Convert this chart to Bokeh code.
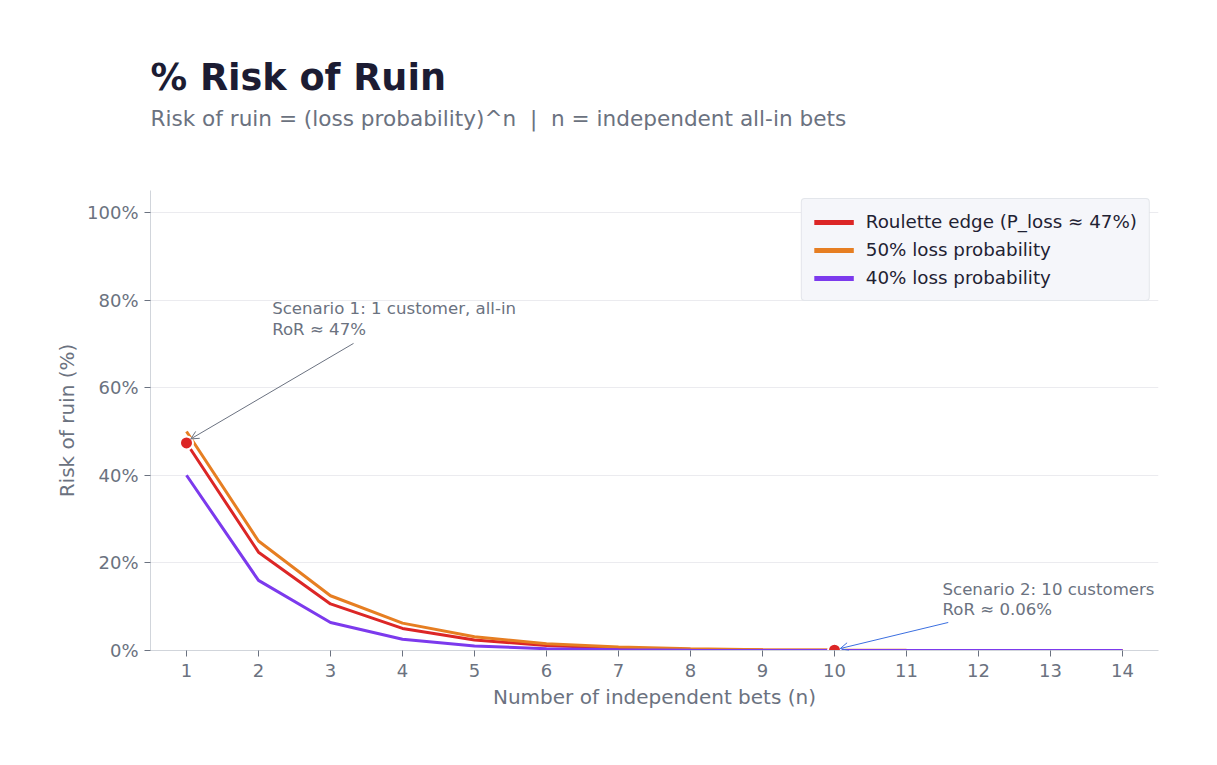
from bokeh.plotting import figure
from bokeh.models import (Title, Label, Arrow, OpenHead, FixedTicker, PrintfTickFormatter,
                          Range1d, Legend, LegendItem)
from bokeh.embed import file_html
from bokeh.resources import INLINE

# ---- data ----
n_bets = [1, 2, 3, 4, 5, 6, 7, 8, 9, 10, 11, 12, 13, 14]
roulette_ror = [47.37, 22.44, 10.63, 5.04, 2.39, 1.13, 0.535, 0.253, 0.120, 0.057, 0.027, 0.013, 0.006, 0.003]
half_ror = [50.0, 25.0, 12.5, 6.25, 3.125, 1.5625, 0.781, 0.391, 0.195, 0.098, 0.049, 0.024, 0.012, 0.006]
forty_ror = [40.0, 16.0, 6.4, 2.56, 1.024, 0.41, 0.164, 0.066, 0.026, 0.010, 0.004, 0.002, 0.001, 0.0003]
series_names = ["Roulette edge (P_loss \u2248 47%)", "50% loss probability", "40% loss probability"]
series_colors = ["#dc2626", "#e67e22", "#7c3aed"]
highlight_n = [1, 10]
highlight_ror = [47.37, 0.057]
y_ticks = [0, 20, 40, 60, 80, 100]
x_ticks = n_bets

# annotation anchors (data space)
ann1_text = "Scenario 1: 1 customer, all-in\nRoR \u2248 47%"
ann1_pos = (2.19, 80.3)
ann1_from = (3.32, 70.1)
ann1_to = (1.06, 48.3)
ann2_text = "Scenario 2: 10 customers\nRoR \u2248 0.06%"
ann2_pos = (11.5, 16.2)
ann2_from = (11.58, 6.4)
ann2_to = (10.08, 0.45)

FONT = "DejaVu Sans"
GRAY = "#6b7280"
DARK = "#1c1c33"

p = figure(width=1217, height=765, output_backend="svg", toolbar_location=None,
           x_range=Range1d(0.5, 14.5), y_range=Range1d(0, 105),
           min_border_left=150, min_border_right=59, min_border_bottom=115, min_border_top=0)
p.title = None
p.outline_line_color = None
p.background_fill_color = "white"
p.border_fill_color = "white"

# stacked "above" panels, innermost first: gap spacer, subtitle, title, top spacer
p.add_layout(Title(text=" ", text_font_size="34px", standoff=15), "above")
sub = Title(text="Risk of ruin = (loss probability)^n \u00a0|\u00a0 n = independent all-in bets",
            text_font=FONT, text_font_size="21.6px", text_color=GRAY, text_font_style="normal",
            align="left", standoff=10)
p.add_layout(sub, "above")
main = Title(text="% Risk of Ruin", text_font=FONT, text_font_size="36.6px", text_color=DARK,
             text_font_style="bold", align="left", standoff=0)
p.add_layout(main, "above")
p.add_layout(Title(text=" ", text_font_size="34px", standoff=13), "above")

for ys, c in zip([roulette_ror, half_ror, forty_ror], series_colors):
    p.line(n_bets, ys, line_color=c, line_width=3)
# legend proxies (thicker line, a single point so nothing is drawn in the plot)
items = []
for name, c, ys in zip(series_names, series_colors, [roulette_ror, half_ror, forty_ror]):
    r = p.line(n_bets[:1], ys[:1], line_color=c, line_width=5)
    items.append(LegendItem(label=name, renderers=[r]))

p.scatter(highlight_n, highlight_ror, size=13, fill_color="#dc2626", line_color="white", line_width=2)

legend = Legend(items=items, location="top_right", label_text_font=FONT, label_text_font_size="18.3px",
                label_text_color="#1f2233", background_fill_color="#f5f6fa", background_fill_alpha=1,
                border_line_color="#d1d5db", border_line_width=1.5, border_radius=4,
                glyph_width=40, glyph_height=20, spacing=7, padding=12, margin=8,
                label_standoff=12)
p.add_layout(legend, "center")

# axes
p.xaxis.ticker = FixedTicker(ticks=x_ticks)
p.yaxis.ticker = FixedTicker(ticks=y_ticks)
p.yaxis.formatter = PrintfTickFormatter(format="%d%%")
for ax in (p.xaxis[0], p.yaxis[0]):
    ax.axis_line_color = "#d1d5db"
    ax.major_tick_line_color = GRAY
    ax.major_tick_in = 0
    ax.major_tick_out = 6
    ax.minor_tick_line_color = None
    ax.major_label_text_font = FONT
    ax.major_label_text_font_size = "18px"
    ax.major_label_text_color = GRAY
    ax.axis_label_text_font = FONT
    ax.axis_label_text_font_size = "20px"
    ax.axis_label_text_color = GRAY
    ax.axis_label_text_font_style = "normal"
p.xaxis.axis_label = "Number of independent bets (n)"
p.yaxis.axis_label = "Risk of ruin (%)"
p.xaxis.major_label_standoff = 7
p.yaxis.major_label_standoff = 6
p.xaxis.axis_label_standoff = 5
p.xgrid.grid_line_color = None
p.ygrid.grid_line_color = "#ebebef"
p.ygrid.grid_line_width = 1

# annotations
p.add_layout(Arrow(end=OpenHead(size=8, line_color=GRAY, line_width=1),
                   x_start=ann1_from[0], y_start=ann1_from[1], x_end=ann1_to[0], y_end=ann1_to[1],
                   line_color=GRAY, line_width=1))
p.add_layout(Label(x=ann1_pos[0], y=ann1_pos[1], text=ann1_text, text_font=FONT, text_font_size="16.6px",
                   text_color=GRAY, text_align="left", text_baseline="top", text_line_height=1.1))
p.add_layout(Arrow(end=OpenHead(size=8, line_color="#3b6fe0", line_width=1),
                   x_start=ann2_from[0], y_start=ann2_from[1], x_end=ann2_to[0], y_end=ann2_to[1],
                   line_color="#3b6fe0", line_width=1))
p.add_layout(Label(x=ann2_pos[0], y=ann2_pos[1], text=ann2_text, text_font=FONT, text_font_size="16.6px",
                   text_color=GRAY, text_align="left", text_baseline="top", text_line_height=1.1))

open("out.html", "w").write(file_html(p, INLINE))
